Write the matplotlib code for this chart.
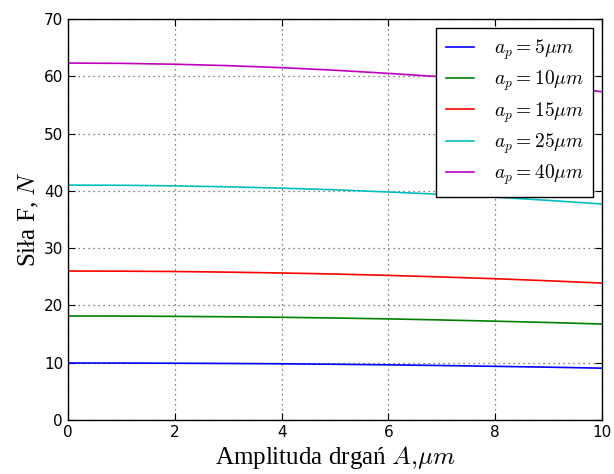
import matplotlib
matplotlib.use("Agg")
import matplotlib.pyplot as plt

plt.rcParams['mathtext.fontset'] = 'cm'

amplitude = [0, 1, 2, 3, 4, 5, 6, 7, 8, 9, 10]
force_5 = [9.95, 9.94, 9.91, 9.87, 9.81, 9.73, 9.63, 9.51, 9.37, 9.22, 9.05]
force_10 = [18.15, 18.14, 18.09, 18.02, 17.93, 17.80, 17.65, 17.46, 17.25, 17.02, 16.75]
force_15 = [26.0, 25.98, 25.92, 25.81, 25.66, 25.48, 25.24, 24.97, 24.66, 24.30, 23.90]
force_25 = [41.0, 40.97, 40.87, 40.70, 40.47, 40.18, 39.80, 39.38, 38.90, 38.33, 37.70]
force_40 = [62.3, 62.25, 62.10, 61.85, 61.50, 61.05, 60.50, 59.90, 59.20, 58.30, 57.30]

series = [
    (force_5, 'b', r'$a_p=5\mu m$'),
    (force_10, 'g', r'$a_p=10\mu m$'),
    (force_15, 'r', r'$a_p=15\mu m$'),
    (force_25, 'c', r'$a_p=25\mu m$'),
    (force_40, 'm', r'$a_p=40\mu m$'),
]

fig = plt.figure(figsize=(6.14, 4.74), dpi=100)
ax = fig.add_axes([0.1107, 0.1139, 0.8698, 0.8461])

colors = {'b': '#0000ff', 'g': '#008000', 'r': '#ff0000', 'c': '#00bfbf', 'm': '#bf00bf'}
for vals, c, lab in series:
    ax.plot(amplitude, vals, color=colors[c], lw=1.2, label=lab)

ax.set_xlim(0, 10)
ax.set_ylim(0, 70)
ax.set_xticks([0, 2, 4, 6, 8, 10])
ax.set_yticks([0, 10, 20, 30, 40, 50, 60, 70])
ax.tick_params(direction='in', top=True, right=True, labelsize=11, length=5)
ax.grid(True, linestyle=(0, (1, 3)), color='0.35', lw=0.9)
for s in ax.spines.values():
    s.set_linewidth(1.0)

ax.set_xlabel(r'Amplituda drgań $A{,}\mu m$', family='Liberation Serif', fontsize=18, labelpad=3)
ax.set_ylabel(r'Siła F, $N$', family='Liberation Serif', fontsize=18, labelpad=2)

leg = ax.legend(loc='upper right', fontsize=14, fancybox=False, framealpha=1,
                edgecolor='black', handlelength=1.45, handletextpad=1.0,
                borderaxespad=0.45, labelspacing=0.35, borderpad=0.5)
leg.get_frame().set_linewidth(1.0)

fig.savefig('out.png', dpi=100)
